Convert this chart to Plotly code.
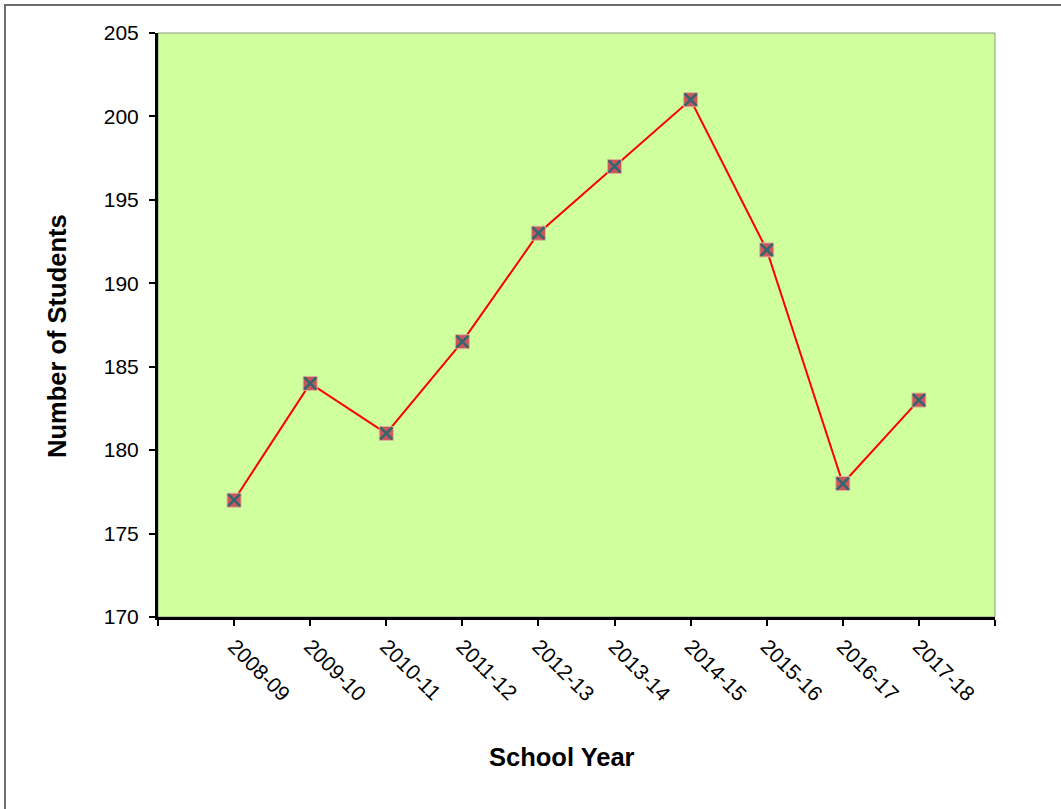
import plotly.graph_objects as go

# Enrolment by school year
school_years = ["2008-09", "2009-10", "2010-11", "2011-12", "2012-13",
                "2013-14", "2014-15", "2015-16", "2016-17", "2017-18"]
students = [177, 184, 181, 186.5, 193, 197, 201, 192, 178, 183]
y_ticks = [170, 175, 180, 185, 190, 195, 200, 205]

positions = list(range(1, len(school_years) + 1))

fig = go.Figure()
fig.add_trace(go.Scatter(
    x=positions, y=students, mode="lines+markers",
    line=dict(color="#FF0000", width=2),
    marker=dict(symbol="square", size=14, color="#C9575A",
                line=dict(color="#D9B89A", width=1)),
    showlegend=False, hoverinfo="skip",
))
fig.add_trace(go.Scatter(
    x=positions, y=students, mode="markers",
    marker=dict(symbol="x-thin", size=12,
                line=dict(color="#2F6670", width=2.5)),
    showlegend=False, hoverinfo="skip",
))

L, R, T, B = 158, 66, 33, 192
W, H = 1061, 809
pw, ph = W - L - R, H - T - B

def px_x(p):
    return (p - L) / pw

def px_y(p):
    return (H - B - p) / ph

font = "Liberation Sans, Arial, sans-serif"

fig.update_layout(
    width=W, height=H,
    margin=dict(l=L, r=R, t=T, b=B, pad=0),
    paper_bgcolor="white",
    plot_bgcolor="#D0FF9E",
    font=dict(family=font, size=21, color="black"),
    xaxis=dict(
        range=[0, len(school_years) + 1],
        tickvals=[0] + positions + [len(school_years) + 1],
        ticktext=[""] + school_years + [""],
        tickangle=45,
        ticks="outside", ticklen=6, tickwidth=2, tickcolor="black",
        showline=True, linecolor="black", linewidth=3,
        showgrid=False, zeroline=False,
        tickfont=dict(size=21),
    ),
    yaxis=dict(
        range=[170, 205],
        tickvals=y_ticks,
        ticks="outside", ticklen=6, tickwidth=2, tickcolor="black",
        ticklabelstandoff=6,
        showline=True, linecolor="black", linewidth=3,
        showgrid=False, zeroline=False,
        tickfont=dict(size=21),
    ),
    shapes=[
        # plot area frame
        dict(type="rect", xref="paper", yref="paper", x0=0, x1=1, y0=0, y1=1,
             line=dict(color="#8A9A80", width=1), layer="below"),
        # chart border
        dict(type="rect", xref="paper", yref="paper",
             x0=px_x(5), x1=px_x(1075), y0=px_y(825), y1=px_y(5),
             line=dict(color="#6E6E6E", width=2)),
    ],
    annotations=[
        dict(text="<b>School Year</b>", xref="paper", yref="paper",
             x=px_x(562), y=px_y(757), showarrow=False,
             font=dict(size=25.5), xanchor="center", yanchor="middle"),
        dict(text="<b>Number of Students</b>", xref="paper", yref="paper",
             x=px_x(57), y=px_y(336), showarrow=False, textangle=-90,
             font=dict(size=25.5), xanchor="center", yanchor="middle"),
    ],
)

fig.write_html("out.html")
